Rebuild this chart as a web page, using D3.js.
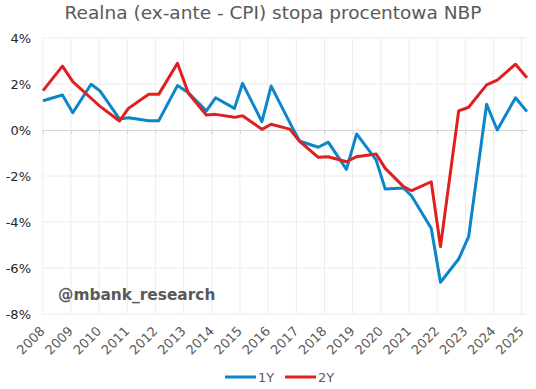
<!DOCTYPE html>
<html>
<head>
<meta charset="utf-8">
<script src="https://cdn.jsdelivr.net/npm/d3@7"></script>
<style>
  body { margin: 0; background: #fff; }
  text { font-family: "DejaVu Sans", Verdana, sans-serif; }
</style>
</head>
<body>
<div class="CHART"></div>
<script>

// NBP projection dates
var dates = ["2008-01-05", "2008-09-13", "2009-01-25", "2009-09-19", "2010-01-10", "2010-09-22",
             "2011-01-16", "2011-10-07", "2012-02-13", "2012-10-13", "2013-03-04", "2013-10-22",
             "2014-02-19", "2014-10-22", "2015-02-04", "2015-10-13", "2016-02-10", "2016-10-07",
             "2017-02-10", "2017-10-13", "2018-02-19", "2018-10-13", "2019-02-22", "2019-11-01",
             "2020-02-28", "2020-10-22", "2021-02-04", "2021-10-16", "2022-02-13", "2022-10-07",
             "2023-02-13", "2023-10-04", "2024-02-19", "2024-10-13", "2025-03-10"];

var real1Y = [1.27, 1.52, 0.75, 1.99, 1.71, 0.48, 0.53, 0.40, 0.40, 1.93, 1.62, 0.83,
              1.40, 0.94, 2.03, 0.36, 1.91, 0.33, -0.48, -0.75, -0.53, -1.71, -0.17, -1.30,
              -2.57, -2.52, -2.87, -4.27, -6.62, -5.61, -4.64, 1.12, 0.00, 1.40, 0.80];

var real2Y = [1.71, 2.78, 2.10, 1.38, 1.04, 0.39, 0.94, 1.55, 1.55, 2.90, 1.60, 0.65,
              0.68, 0.55, 0.62, 0.03, 0.25, 0.04, -0.48, -1.19, -1.16, -1.38, -1.16, -1.04,
              -1.67, -2.46, -2.64, -2.25, -5.07, 0.83, 0.99, 1.96, 2.17, 2.86, 2.27];

var years = d3.range(2008, 2026);
var yTicks = [4, 2, 0, -2, -4, -6, -8];

var seriesNames = ["1Y", "2Y"];
var seriesColors = ["#0b87c9", "#e0201f"];

var width = 536, height = 389;
var plotL = 42.7, plotR = 527, plotT = 38, plotB = 314;

var svg = d3.select(".CHART").append("svg")
    .attr("width", width)
    .attr("height", height);

var parse = d3.timeParse("%Y-%m-%d");
var when = dates.map(parse);

var x = d3.scaleTime()
    .domain([new Date(2008, 0, 1), new Date(2025, 0, 1)])
    .range([plotL, 521.7]);

var y = d3.scaleLinear()
    .domain([-8, 4])
    .range([plotB, plotT]);

// title
svg.append("text")
    .attr("x", 273)
    .attr("y", 19)
    .attr("text-anchor", "middle")
    .attr("font-size", 18.5)
    .attr("fill", "#595959")
    .text("Realna (ex-ante - CPI) stopa procentowa NBP");

// horizontal grid
svg.append("g").selectAll("line")
    .data(yTicks.filter(function(d) { return d != 0; }))
    .enter().append("line")
    .attr("x1", plotL).attr("x2", plotR)
    .attr("y1", function(d) { return y(d); })
    .attr("y2", function(d) { return y(d); })
    .attr("stroke", "#ececec")
    .attr("stroke-width", 1);

// vertical grid
svg.append("g").selectAll("line")
    .data(years)
    .enter().append("line")
    .attr("x1", function(d) { return x(new Date(d, 0, 1)); })
    .attr("x2", function(d) { return x(new Date(d, 0, 1)); })
    .attr("y1", plotT).attr("y2", plotB)
    .attr("stroke", "#ececec")
    .attr("stroke-width", 1);

// zero axis with small ticks
var xAxis = d3.axisBottom(x)
    .tickValues(years.map(function(d) { return new Date(d, 0, 1); }))
    .tickSize(4)
    .tickSizeOuter(0)
    .tickFormat("");

var axisG = svg.append("g")
    .attr("transform", "translate(0," + y(0) + ")")
    .call(xAxis);
axisG.select(".domain").attr("d", "M" + plotL + ",0.5H" + plotR).attr("stroke", "#d4d4d4");
axisG.selectAll(".tick line").attr("stroke", "#d4d4d4");

// y labels
svg.append("g").selectAll("text")
    .data(yTicks)
    .enter().append("text")
    .attr("x", 31)
    .attr("y", function(d) { return y(d) + 5; })
    .attr("text-anchor", "end")
    .attr("font-size", 13)
    .attr("fill", "#262626")
    .text(function(d) { return d + "%"; });

// x labels
svg.append("g").selectAll("text")
    .data(years)
    .enter().append("text")
    .attr("transform", function(d) {
        return "translate(" + (x(new Date(d, 0, 1)) + 3) + "," + (plotB + 18) + ") rotate(-45)";
    })
    .attr("text-anchor", "end")
    .attr("font-size", 13)
    .attr("fill", "#595959")
    .text(function(d) { return d; });

// watermark
svg.append("text")
    .attr("x", 58)
    .attr("y", 300)
    .attr("font-size", 15.4)
    .attr("font-weight", "bold")
    .attr("fill", "#595959")
    .text("@mbank_research");

// lines
var line = d3.line()
    .x(function(d, i) { return x(when[i]); })
    .y(function(d) { return y(d); });

[real1Y, real2Y].forEach(function(s, k) {
    svg.append("path")
        .datum(s)
        .attr("d", line)
        .attr("fill", "none")
        .attr("stroke", seriesColors[k])
        .attr("stroke-width", 3)
        .attr("stroke-linejoin", "round");
});

// legend
var legend = svg.append("g").selectAll("g")
    .data(seriesNames)
    .enter().append("g")
    .attr("transform", function(d, i) { return "translate(" + (225 + i * 60) + ",377)"; });

legend.append("line")
    .attr("x1", 0).attr("x2", 31)
    .attr("stroke", function(d, i) { return seriesColors[i]; })
    .attr("stroke-width", 3);

legend.append("text")
    .attr("x", 33)
    .attr("y", 5)
    .attr("font-size", 13)
    .attr("fill", "#595959")
    .text(function(d) { return d; });

</script>
</body>
</html>
